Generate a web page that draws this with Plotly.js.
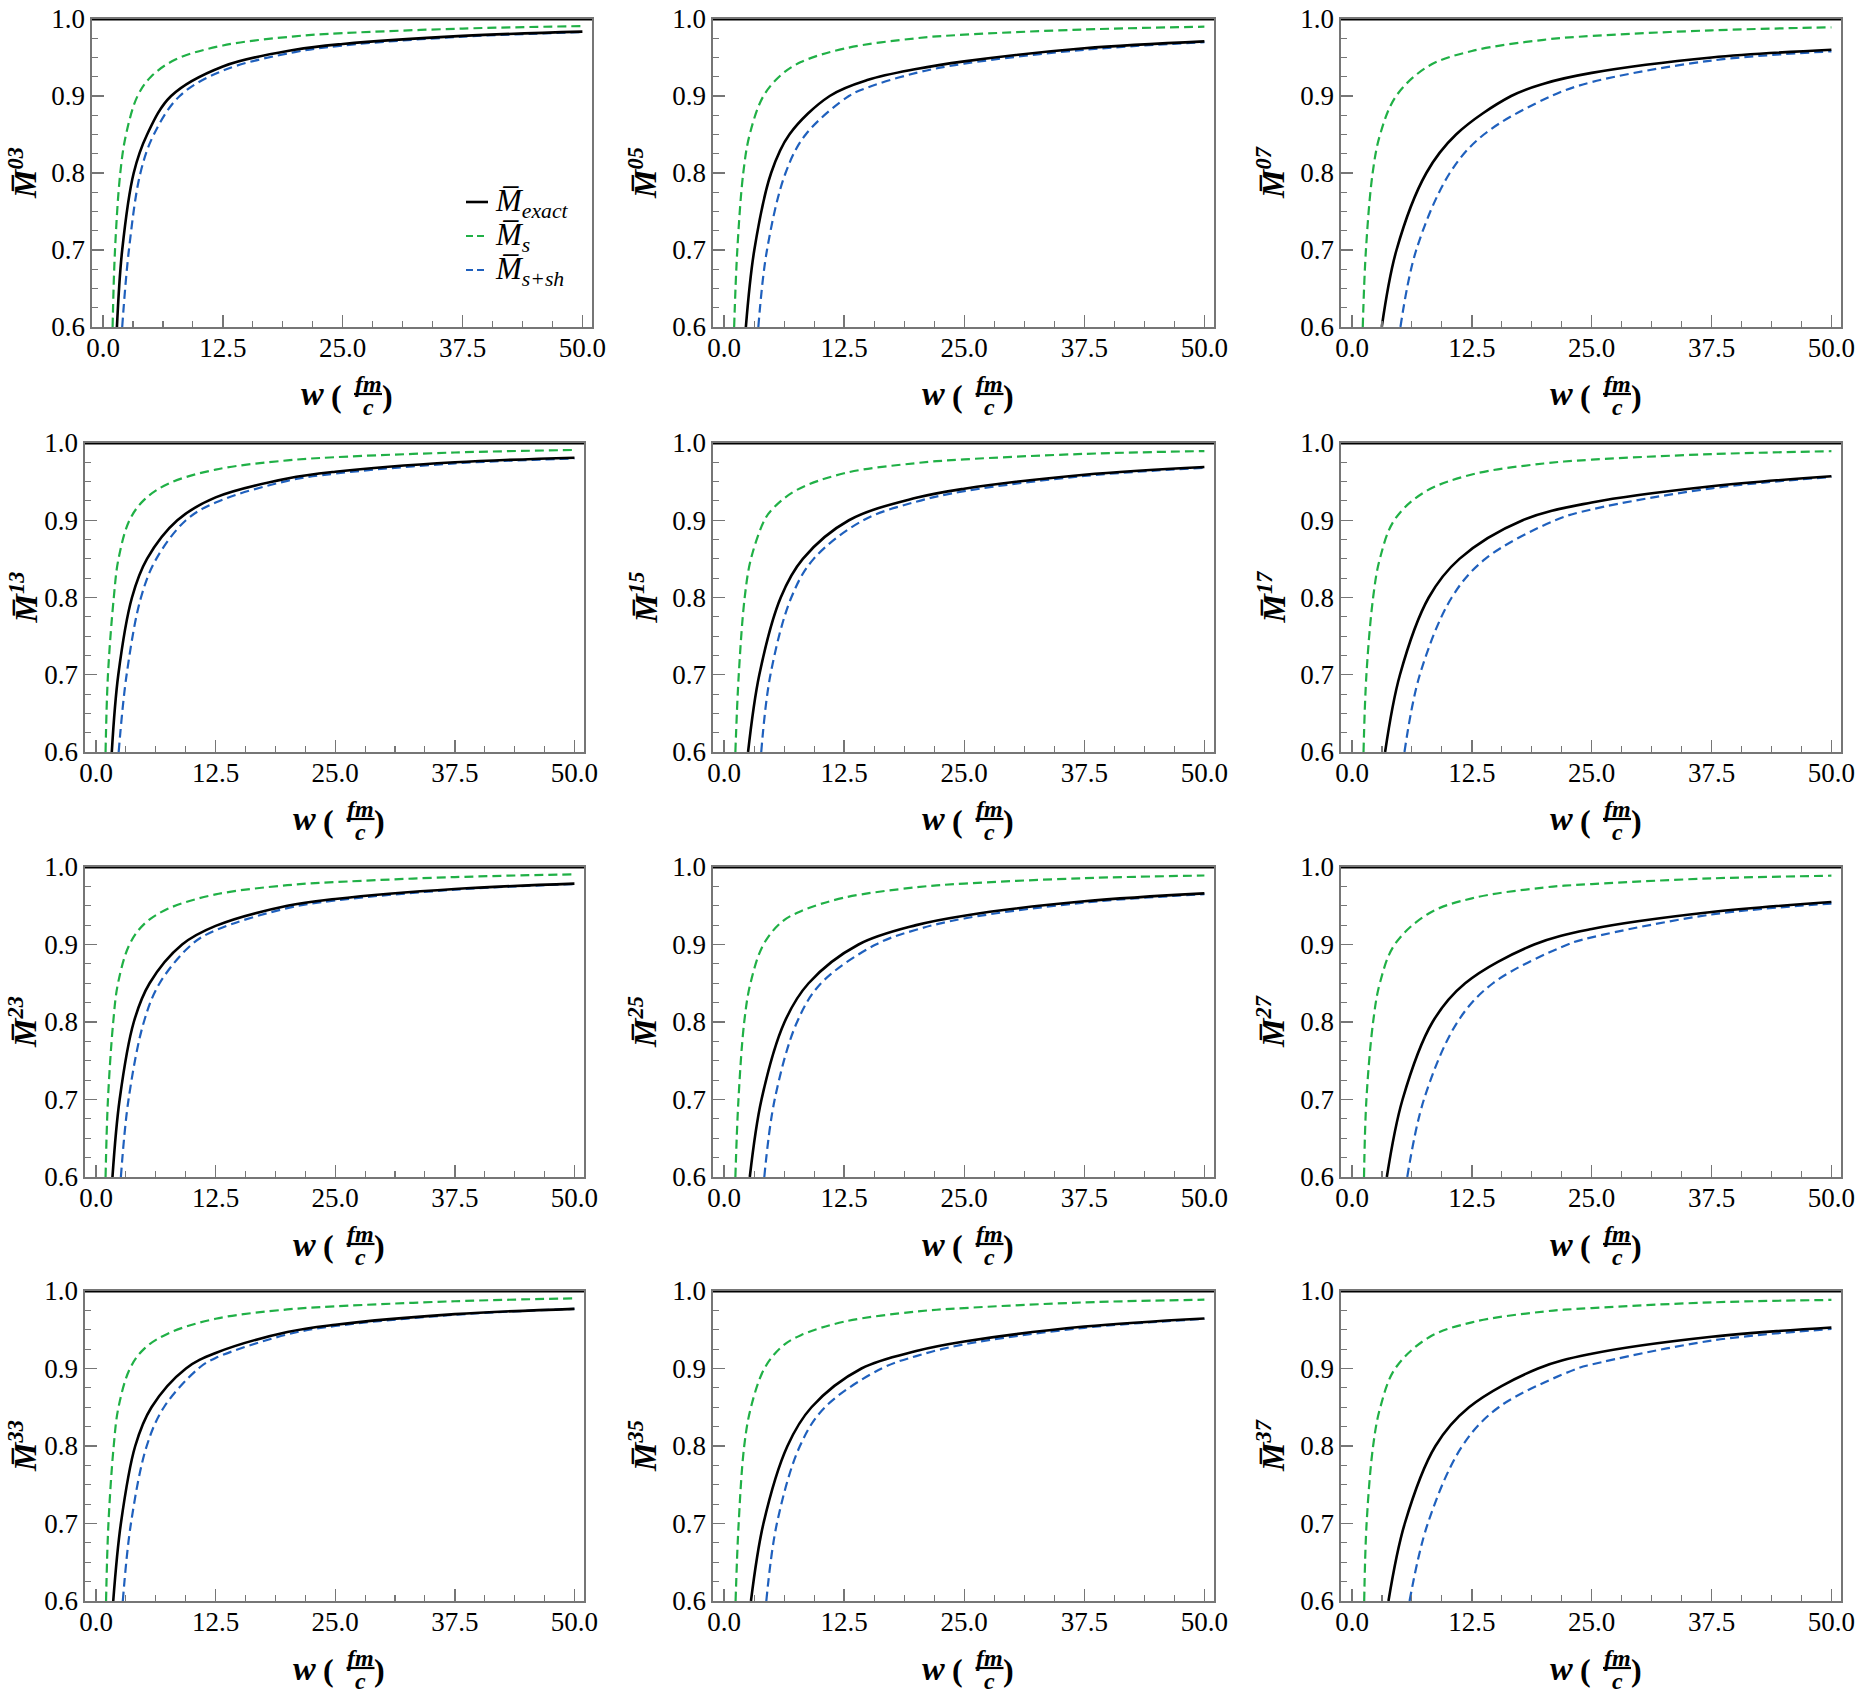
<!DOCTYPE html>
<html><head><meta charset="utf-8">
<script src="https://cdn.plot.ly/plotly-3.0.1.min.js"></script>
<style>html,body{margin:0;padding:0;background:#fff;} #chart{width:1873px;height:1696px;}</style>
</head><body><div id="chart"></div>
<script>
// ---------------- data ----------------
const panelIds = ["03","05","07","13","15","17","23","25","27","33","35","37"];
const xTickVals = [0, 12.5, 25, 37.5, 50];
const xTickText = ["0.0", "12.5", "25.0", "37.5", "50.0"];
const yTickVals = [0.6, 0.7, 0.8, 0.9, 1.0];
const yTickText = ["0.6", "0.7", "0.8", "0.9", "1.0"];
const legendNames = ["<i>M\u0305<sub>exact</sub></i>", "<i>M\u0305<sub>s</sub></i>", "<i>M\u0305<sub>s+sh</sub></i>"];

// panel 03
const w03_s = [1.0,1.25,1.8,2.4,3.6,5,7.5,12.5,20,25,37.5,50];
const m03_s = [0.6,0.7,0.8,0.85,0.9,0.925,0.947,0.9656,0.9775,0.9816,0.9876,0.9908];
const w03_exact = [1.45,2.0,3.2,4.6,7.1,12.5,20,25,37.5,50];
const m03_exact = [0.6,0.7,0.8,0.85,0.9,0.9384,0.96,0.9676,0.9781,0.9836];
const w03_ssh = [2.0,2.7,3.9,5.3,8.0,12.5,20,25,37.5,50];
const m03_ssh = [0.6,0.7,0.8,0.85,0.9,0.933,0.957,0.9656,0.977,0.983];
// panel 05
const w05_s = [1.05,1.38,2.0,2.67,4.1,6,8,12.5,20,25,37.5,50];
const m05_s = [0.6,0.7,0.8,0.85,0.9,0.928,0.944,0.9616,0.975,0.9796,0.9864,0.990];
const w05_exact = [2.27,3.15,4.9,6.8,11.0,15,20,25,37.5,50];
const m05_exact = [0.6,0.7,0.8,0.85,0.9,0.921,0.935,0.945,0.962,0.971];
const w05_ssh = [3.57,4.47,6.4,8.5,13.0,15,20,25,37.5,50];
const m05_ssh = [0.6,0.7,0.8,0.85,0.9,0.9113,0.93,0.942,0.96,0.970];
// panel 07
const w07_s = [1.12,1.45,2.15,2.93,4.6,8,12.5,20,25,37.5,50];
const m07_s = [0.6,0.7,0.8,0.85,0.9,0.939,0.9584,0.973,0.978,0.9853,0.9892];
const w07_exact = [3.1,4.64,7.75,10.85,16.6,20,25,37.5,50];
const m07_exact = [0.6,0.7,0.8,0.85,0.9,0.916,0.930,0.950,0.960];
const w07_ssh = [5.05,6.7,10.2,13.75,20.8,25,37.5,50];
const m07_ssh = [0.6,0.7,0.8,0.85,0.9,0.918,0.946,0.958];
// panel 13
const w13_s = [1.0,1.25,1.86,2.35,3.5,5,7.5,12.5,20,25,37.5,50];
const m13_s = [0.6,0.7,0.8,0.85,0.9,0.926,0.947,0.9656,0.9775,0.9816,0.9877,0.991];
const w13_exact = [1.65,2.33,3.76,5.33,8.5,12.5,20,25,37.5,50];
const m13_exact = [0.6,0.7,0.8,0.85,0.9,0.9296,0.954,0.9628,0.975,0.981];
const w13_ssh = [2.37,3.2,4.7,6.3,9.4,12.5,20,25,37.5,50];
const m13_ssh = [0.6,0.7,0.8,0.85,0.9,0.923,0.951,0.9604,0.9736,0.980];
// panel 15
const w15_s = [1.18,1.53,2.15,2.8,4.2,5,7.5,12.5,20,25,37.5,50];
const m15_s = [0.6,0.7,0.8,0.85,0.9,0.914,0.9387,0.9608,0.974,0.9788,0.9859,0.9896];
const w15_exact = [2.5,3.67,5.9,8.2,13.0,20,25,37.5,50];
const m15_exact = [0.6,0.7,0.8,0.85,0.9,0.929,0.9408,0.959,0.969];
const w15_ssh = [3.87,4.83,7.0,9.33,14.5,20,25,37.5,50];
const m15_ssh = [0.6,0.7,0.8,0.85,0.9,0.924,0.9376,0.9573,0.968];
// panel 17
const w17_s = [1.2,1.5,2.2,2.9,4.4,7.5,12.5,20,25,37.5,50];
const m17_s = [0.6,0.7,0.8,0.85,0.9,0.936,0.9592,0.9735,0.9784,0.9856,0.9894];
const w17_exact = [3.45,5.0,8.0,11.2,17.8,25,37.5,50];
const m17_exact = [0.6,0.7,0.8,0.85,0.9,0.923,0.944,0.957];
const w17_ssh = [5.47,7.07,10.4,13.9,21.2,25,37.5,50];
const m17_ssh = [0.6,0.7,0.8,0.85,0.9,0.914,0.9413,0.956];
// panel 23
const w23_s = [1.0,1.25,1.8,2.3,3.5,5,7.5,12.5,20,25,37.5,50];
const m23_s = [0.6,0.7,0.8,0.85,0.9,0.926,0.946,0.9646,0.9765,0.9805,0.987,0.9905];
const w23_exact = [1.72,2.47,3.95,5.6,9.0,12.5,20,25,37.5,50];
const m23_exact = [0.6,0.7,0.8,0.85,0.9,0.924,0.95,0.9588,0.9717,0.9785];
const w23_ssh = [2.6,3.4,5.0,6.65,10.0,12.5,20,25,37.5,50];
const m23_ssh = [0.6,0.7,0.8,0.85,0.9,0.9184,0.947,0.9568,0.9707,0.978];
// panel 25
const w25_s = [1.18,1.5,2.1,2.75,4.1,6,8,12.5,20,25,37.5,50];
const m25_s = [0.6,0.7,0.8,0.85,0.9,0.929,0.943,0.9604,0.9738,0.9786,0.9856,0.989];
const w25_exact = [2.68,3.9,6.3,8.8,14.0,20,25,37.5,50];
const m25_exact = [0.6,0.7,0.8,0.85,0.9,0.925,0.9372,0.9557,0.966];
const w25_ssh = [4.19,5.27,7.6,10.1,15.8,20,25,37.5,50];
const m25_ssh = [0.6,0.7,0.8,0.85,0.9,0.919,0.9336,0.9541,0.965];
// panel 27
const w27_s = [1.25,1.5,2.2,2.9,4.45,8,12.5,20,25,37.5,50];
const m27_s = [0.6,0.7,0.8,0.85,0.9,0.94,0.9596,0.9735,0.978,0.9853,0.9888];
const w27_exact = [3.63,5.27,8.4,11.8,19.0,25,37.5,50];
const m27_exact = [0.6,0.7,0.8,0.85,0.9,0.92,0.9419,0.9548];
const w27_ssh = [5.76,7.5,11.0,14.7,22.5,25,37.5,50];
const m27_ssh = [0.6,0.7,0.8,0.85,0.9,0.9092,0.9387,0.9528];
// panel 33
const w33_s = [1.05,1.3,1.85,2.35,3.55,5,7.5,12.5,20,25,37.5,50];
const m33_s = [0.6,0.7,0.8,0.85,0.9,0.925,0.945,0.9642,0.9762,0.9802,0.9868,0.9905];
const w33_exact = [1.8,2.6,4.1,5.8,9.4,12.5,20,25,37.5,50];
const m33_exact = [0.6,0.7,0.8,0.85,0.9,0.92,0.947,0.9564,0.9701,0.977];
const w33_ssh = [2.8,3.65,5.3,7.1,10.7,12.5,20,25,37.5,50];
const m33_ssh = [0.6,0.7,0.8,0.85,0.9,0.9136,0.944,0.9548,0.9693,0.977];
// panel 35
const w35_s = [1.2,1.52,2.1,2.8,4.2,6,8,12.5,20,25,37.5,50];
const m35_s = [0.6,0.7,0.8,0.85,0.9,0.928,0.943,0.9604,0.9735,0.978,0.9853,0.9888];
const w35_exact = [2.8,4.1,6.6,9.1,14.3,20,25,37.5,50];
const m35_exact = [0.6,0.7,0.8,0.85,0.9,0.9225,0.9348,0.9541,0.9646];
const w35_ssh = [4.4,5.5,7.9,10.5,16.4,20,25,37.5,50];
const m35_ssh = [0.6,0.7,0.8,0.85,0.9,0.916,0.9312,0.9525,0.964];
// panel 37
const w37_s = [1.27,1.52,2.2,2.95,4.5,8,12.5,20,25,37.5,50];
const m37_s = [0.6,0.7,0.8,0.85,0.9,0.94,0.9596,0.9735,0.978,0.9853,0.9885];
const w37_exact = [3.8,5.5,8.7,12.2,19.4,25,37.5,50];
const m37_exact = [0.6,0.7,0.8,0.85,0.9,0.919,0.941,0.953];
const w37_ssh = [6.0,7.9,11.5,15.3,23.5,25,37.5,50];
const m37_ssh = [0.6,0.7,0.8,0.85,0.9,0.9052,0.936,0.951];

// ---------------- assemble ----------------
const series = {
  "03": {exact:[w03_exact,m03_exact], s:[w03_s,m03_s], ssh:[w03_ssh,m03_ssh]},
  "05": {exact:[w05_exact,m05_exact], s:[w05_s,m05_s], ssh:[w05_ssh,m05_ssh]},
  "07": {exact:[w07_exact,m07_exact], s:[w07_s,m07_s], ssh:[w07_ssh,m07_ssh]},
  "13": {exact:[w13_exact,m13_exact], s:[w13_s,m13_s], ssh:[w13_ssh,m13_ssh]},
  "15": {exact:[w15_exact,m15_exact], s:[w15_s,m15_s], ssh:[w15_ssh,m15_ssh]},
  "17": {exact:[w17_exact,m17_exact], s:[w17_s,m17_s], ssh:[w17_ssh,m17_ssh]},
  "23": {exact:[w23_exact,m23_exact], s:[w23_s,m23_s], ssh:[w23_ssh,m23_ssh]},
  "25": {exact:[w25_exact,m25_exact], s:[w25_s,m25_s], ssh:[w25_ssh,m25_ssh]},
  "27": {exact:[w27_exact,m27_exact], s:[w27_s,m27_s], ssh:[w27_ssh,m27_ssh]},
  "33": {exact:[w33_exact,m33_exact], s:[w33_s,m33_s], ssh:[w33_ssh,m33_ssh]},
  "35": {exact:[w35_exact,m35_exact], s:[w35_s,m35_s], ssh:[w35_ssh,m35_ssh]},
  "37": {exact:[w37_exact,m37_exact], s:[w37_s,m37_s], ssh:[w37_ssh,m37_ssh]}
};

const W = 1873, H = 1696;
const FONT = "Liberation Serif, Times New Roman, serif";
const FRAME = "#767676";
const rowsPx = [[19,327],[443,752],[867,1177],[1291,1601]];
function colPx(r, c) {
  if (c === 0) return r === 0 ? [92,592] : [85,584];
  if (c === 1) return [713,1214];
  return [1341,1841];
}
const styles = {
  s:     {color:"#20b046", dash:"9px,5px", width:2.2, name:legendNames[1]},
  ssh:   {color:"#1f60bd", dash:"9px,5px", width:2.2, name:legendNames[2]},
  exact: {color:"#000000", dash:"solid",   width:2.6, name:legendNames[0]}
};

const traces = [];
const layout = {
  width: W, height: H,
  margin: {l:0, r:0, t:0, b:0},
  paper_bgcolor: "#fff", plot_bgcolor: "#fff",
  showlegend: false,
  shapes: [], annotations: [],
  font: {family: FONT, color: "#000"}
};

panelIds.forEach((pid, i) => {
  const r = Math.floor(i / 3), c = i % 3, n = i + 1;
  const [top, bot] = rowsPx[r];
  const [left, right] = colPx(r, c);
  const xa = "xaxis" + n, ya = "yaxis" + n;
  const xr = "x" + n, yr = "y" + n;
  layout[xa] = {
    domain: [left / W, right / W], anchor: yr, range: [-1.15, 51.0],
    tickmode: "array", tickvals: xTickVals, ticktext: xTickText,
    ticks: "inside", ticklen: 12, tickwidth: 1.4, tickcolor: FRAME,
    ticklabelstandoff: -4,
    showline: true, linecolor: FRAME, linewidth: 1.6, mirror: true,
    showgrid: false, zeroline: false,
    tickfont: {family: FONT, size: 27, color: "#000"},
    minor: {ticks: "inside", ticklen: 6, tickwidth: 1.1, tickcolor: FRAME,
            tickmode: "linear", tick0: 0, dtick: 3.125, showgrid: false}
  };
  layout[ya] = {
    domain: [1 - bot / H, 1 - top / H], anchor: xr, range: [0.6, 1.0],
    tickmode: "array", tickvals: yTickVals, ticktext: yTickText,
    ticks: "inside", ticklen: 12, tickwidth: 1.4, tickcolor: FRAME,
    showline: true, linecolor: FRAME, linewidth: 1.6, mirror: true,
    showgrid: false, zeroline: false,
    tickfont: {family: FONT, size: 27, color: "#000"},
    minor: {ticks: "inside", ticklen: 6, tickwidth: 1.1, tickcolor: FRAME,
            tickmode: "linear", tick0: 0.6, dtick: 0.025, showgrid: false}
  };
  ["s", "ssh", "exact"].forEach(key => {
    const st = styles[key];
    const [xs, ys] = series[pid][key];
    traces.push({
      type: "scatter", mode: "lines", x: xs, y: ys, xaxis: xr, yaxis: yr,
      name: st.name, showlegend: false,
      line: {color: st.color, dash: st.dash, width: st.width, shape: "spline", smoothing: 1}
    });
  });
  // black top line at M = 1
  layout.shapes.push({type: "line", xref: xr + " domain", yref: yr, x0: 0, x1: 1, y0: 1, y1: 1,
                      line: {color: "#000", width: 3}});
  // y-axis title
  const cy = (top + bot) / 2;
  layout.annotations.push({
    xref: "paper", yref: "paper", x: Math.max(left - 70, 23) / W, y: 1 - cy / H,
    xanchor: "center", yanchor: "middle", textangle: -90, showarrow: false,
    text: "<b><i>M\u0305<sup>" + pid + "</sup></i></b>",
    font: {family: FONT, size: 32, color: "#000"}
  });
  // x-axis title: w ( fm / c )
  const cx = (left + right) / 2;
  const addTxt = (dx, dy, txt, size) => layout.annotations.push({
    xref: "paper", yref: "paper", x: (cx + dx) / W, y: 1 - (bot + dy) / H,
    xanchor: "center", yanchor: "middle", showarrow: false, text: txt,
    font: {family: FONT, size: size, color: "#000"}
  });
  addTxt(-30, 67, "<b><i>w</i></b>", 34);
  addTxt(-6, 69, "<b>(</b>", 32);
  addTxt(26, 57, "<b><i>fm</i></b>", 24);
  addTxt(26, 80, "<b><i>c</i></b>", 24);
  addTxt(45, 69, "<b>)</b>", 32);
  layout.shapes.push({type: "line", xref: "paper", yref: "paper",
    x0: (cx + 12) / W, x1: (cx + 40) / W, y0: 1 - (bot + 67) / H, y1: 1 - (bot + 67) / H,
    line: {color: "#000", width: 2.2}});
});

// legend inside the first panel (line samples + labels)
const legendKeys = ["exact", "s", "ssh"];
const legendRowsPx = [202, 236, 270];
legendKeys.forEach((key, k) => {
  const st = styles[key];
  const yp = 1 - legendRowsPx[k] / H;
  layout.shapes.push({type: "line", xref: "paper", yref: "paper",
    x0: 466 / W, x1: 488 / W, y0: yp, y1: yp,
    line: {color: st.color, dash: key === "exact" ? "solid" : "7px,4px", width: st.width}});
  layout.annotations.push({
    xref: "paper", yref: "paper", x: 493 / W, y: 1 - (legendRowsPx[k] + 1) / H,
    xanchor: "left", yanchor: "middle", showarrow: false, text: st.name,
    font: {family: FONT, size: 31, color: "#000"}
  });
});

Plotly.newPlot("chart", traces, layout, {staticPlot: true});
</script>
</body></html>
